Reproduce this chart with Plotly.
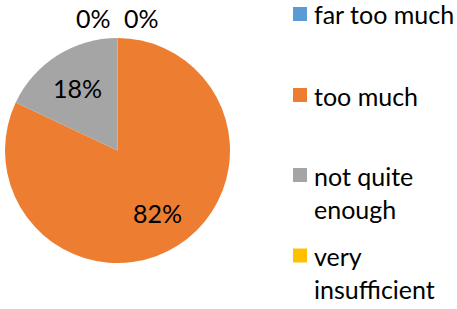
import math
import plotly.graph_objects as go

categories = ["far too much", "too much", "not quite enough", "very insufficient"]
values = [0, 82, 18, 0]
colors = ["#5B9BD5", "#ED7D31", "#A5A5A5", "#FFC000"]
legend_text = ["far too much", "too much", "not quite<br>enough", "very<br>insufficient"]

W, H = 457, 309
FONT = "Lato"
FS = 25

# pie geometry (pixels)
CX, CY, R = 117.5, 150.5, 112.5

fig = go.Figure(go.Pie(
    labels=categories, values=values, sort=False, direction="clockwise", rotation=0,
    marker=dict(colors=colors, line=dict(color="white", width=0)),
    textinfo="none",
    showlegend=False, hoverinfo="label+percent",
    domain=dict(x=[(CX - R) / W, (CX + R) / W], y=[(H - CY - R) / H, (H - CY + R) / H]),
))

# data labels: placed along each slice's mid-angle (Excel "best fit" style)
total = sum(values)
zero_offset = {0: 23.5, 3: -24.5}
cum = 0.0
for i, v in enumerate(values):
    frac = v / total
    mid = (cum + frac / 2) * 2 * math.pi
    cum += frac
    if v == 0:
        px, py = CX + zero_offset[i], 18
    else:
        px = CX + 0.66 * R * math.sin(mid)
        py = CY - 0.66 * R * math.cos(mid)
    fig.add_annotation(xref="paper", yref="paper", x=px / W, y=1 - py / H,
                       xanchor="center", yanchor="middle", showarrow=False,
                       text=f"{frac:.0%}",
                       font=dict(family=FONT, size=FS, color="black"))

# legend
sq_centers = [14, 95, 175, 255.5]
for cat, txt, col, cy in zip(categories, legend_text, colors, sq_centers):
    fig.add_shape(type="rect", xref="paper", yref="paper",
                  x0=293 / W, x1=307 / W, y0=1 - (cy + 7) / H, y1=1 - (cy - 7) / H,
                  fillcolor=col, line=dict(width=0))
    fig.add_annotation(xref="paper", yref="paper", x=312 / W, y=1 - (cy - 16.5) / H,
                       xanchor="left", yanchor="top", align="left", showarrow=False,
                       text=txt, font=dict(family=FONT, size=FS, color="black"))

fig.update_layout(width=W, height=H, margin=dict(l=0, r=0, t=0, b=0),
                  paper_bgcolor="white", plot_bgcolor="white")
fig.write_html("out.html", config={"displayModeBar": False},
               post_script="document.body.style.margin='0';")
